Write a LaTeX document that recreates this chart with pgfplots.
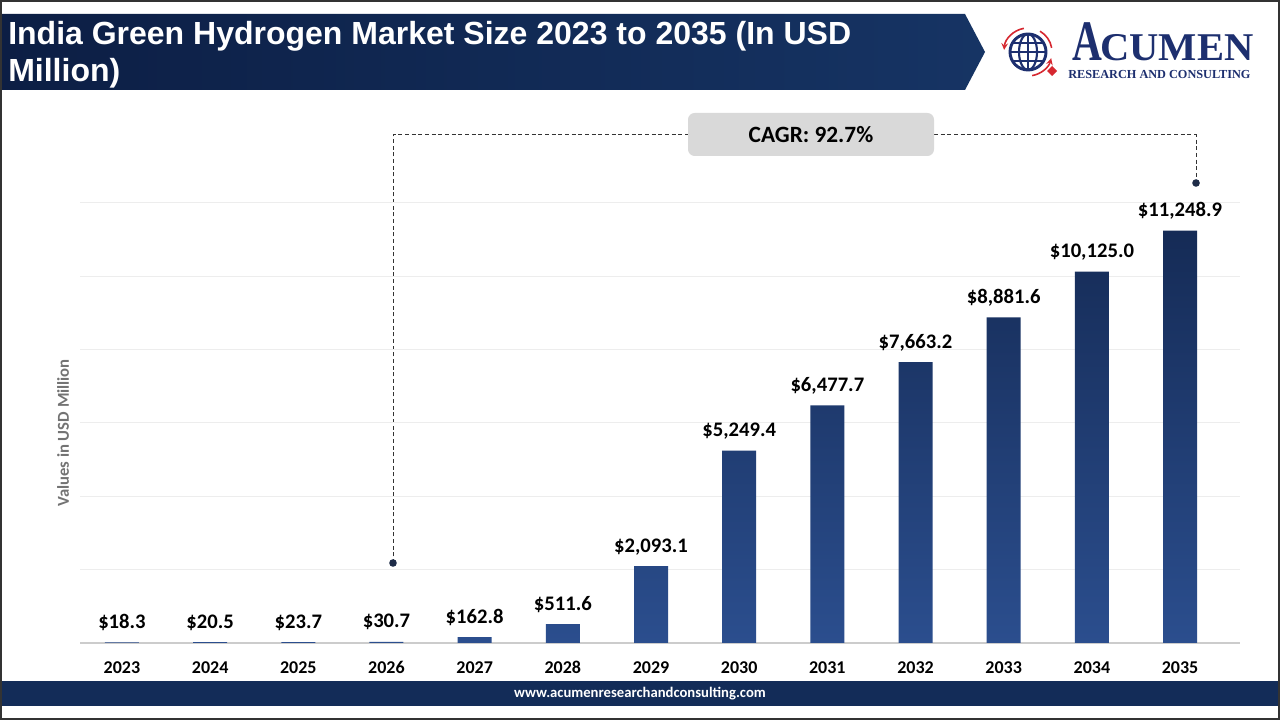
\documentclass[border=0pt]{standalone}
\usepackage{pgfplots}
\pgfplotsset{compat=1.18}
\usepackage{pgfplotstable}
\usepackage{fontspec}
\setmainfont{Carlito}
\newfontfamily\titlefont{Liberation Sans}
\newfontfamily\logofont{Liberation Serif}
\definecolor{navy}{RGB}{19,44,88}
\definecolor{bannerL}{RGB}{12,30,68}
\definecolor{bannerR}{RGB}{22,52,100}
\definecolor{barTop}{RGB}{21,43,86}
\definecolor{barBot}{RGB}{43,78,142}
\definecolor{logoblue}{RGB}{29,47,111}
\definecolor{logored}{RGB}{214,40,48}
\definecolor{dotc}{RGB}{30,44,72}
\pgfplotstableread{
x y label
0 18.3 18.3
1 20.5 20.5
2 23.7 23.7
3 30.7 30.7
4 162.8 162.8
5 511.6 511.6
6 2093.1 2,093.1
7 5249.4 5,249.4
8 6477.7 6,477.7
9 7663.2 7,663.2
10 8881.6 8,881.6
11 10125.0 10,125.0
12 11248.9 11,248.9
}\marketdata
\begin{document}
\begin{tikzpicture}[x=0.75pt,y=0.75pt]
\useasboundingbox (0,0) rectangle (1280,720);
\fill[white] (0,0) rectangle (1280,720);
% banner
\shade[left color=bannerL, right color=bannerR] (0,706) -- (965,706) -- (985,668) -- (965,630) -- (0,630) -- cycle;
\node[anchor=base west, inner sep=0pt, text=white, font=\titlefont\bfseries\fontsize{24}{28}\selectfont] at (8,675) {India Green Hydrogen Market Size 2023 to 2035 (In USD};
\node[anchor=base west, inner sep=0pt, text=white, font=\titlefont\bfseries\fontsize{24}{28}\selectfont] at (8,638) {Million)};
% logo
\begin{scope}
\clip (1028,668) circle (18);
\draw[logoblue, line width=1.6] (1028,668) ellipse (9 and 18);
\draw[logoblue, line width=1.6] (1028,650) -- (1028,686);
\draw[logoblue, line width=1.6] (1010,668) -- (1046,668);
\draw[logoblue, line width=1.6] (1010,677) -- (1046,677);
\draw[logoblue, line width=1.6] (1010,659) -- (1046,659);
\end{scope}
\draw[logoblue, line width=2.2] (1028,668) circle (18);
\draw[logored, line width=1.2, -stealth] (1028,668) ++(100:24) arc (100:175:24);
\draw[logored, line width=1.2, -stealth] (1028,668) ++(280:24) arc (280:345:24);
\draw[logored, line width=1.2] (1028,668) ++(10:24) arc (10:60:24);
\fill[logored] (1052,654) -- (1057,649) -- (1052,644) -- (1047,649) -- cycle;
\node[anchor=base west, inner sep=0pt, text depth=0pt, text=logoblue] at (1072,659) {\scalebox{0.72}[1]{\logofont\bfseries\fontsize{43}{43}\selectfont A}};
\node[anchor=base west, inner sep=0pt, text depth=0pt, text=logoblue] at (1100,659) {\scalebox{1.03}[1]{\logofont\bfseries\fontsize{29.5}{30}\selectfont CUMEN}};
\node[anchor=base west, inner sep=0pt, text depth=0pt, text height=6.5pt, text=logoblue] at (1068,641) {\logofont\bfseries\fontsize{9.2}{10}\selectfont RESEARCH AND CONSULTING};
% bottom bar
\fill[navy] (0,14) rectangle (1280,39);
\node[text=white, font=\bfseries\fontsize{11}{12}\selectfont, inner sep=0pt] at (640,26.5) {www.acumenresearchandconsulting.com};
% y label
\node[rotate=90, text=black!55, font=\bfseries\fontsize{12.5}{13}\selectfont, inner sep=0pt] at (63,287) {Values in USD Million};
% CAGR annotation
\draw[black!80, densely dashed, line width=0.75] (393,157) -- (393,585) -- (688,585);
\draw[black!80, densely dashed, line width=0.75] (934,585) -- (1196,585) -- (1196,537);
\fill[dotc] (393,157) circle (3.8);
\fill[dotc] (1196,537) circle (3.8);
\fill[black!15, rounded corners=5] (688,564) rectangle (934,607);
\node[font=\bfseries\fontsize{17.5}{18}\selectfont, inner sep=0pt] at (811,585) {CAGR: 92.7\%};
% chart
\begin{axis}[
  at={(60pt,57.75pt)}, anchor=south west,
  width=870pt, height=330pt, scale only axis,
  xmin=-0.476, xmax=12.68, ymin=0, ymax=12000,
  axis line style={draw=none},
  xtick={0,...,12},
  xticklabels={2023,2024,2025,2026,2027,2028,2029,2030,2031,2032,2033,2034,2035},
  xticklabel style={font=\bfseries\fontsize{13.5}{14}\selectfont, anchor=base, yshift=-23.25pt, inner sep=0pt},
  ytick={2000,4000,6000,8000,10000,12000},
  yticklabels={},
  scaled y ticks=false,
  ymajorgrids,
  grid style={draw=black!7, line width=0.75pt},
  extra y ticks={0}, extra y tick labels={},
  extra y tick style={grid style={draw=black!20, line width=0.9pt}},
  major tick length=0pt,
  clip=false,
  point meta=explicit symbolic,
  nodes near coords={\$\pgfplotspointmeta},
  every node near coord/.append style={font=\bfseries\fontsize{15.5}{16}\selectfont, anchor=base, yshift=10.5pt, inner sep=0pt, text=black},
]
\addplot[ybar, bar width=25.5pt, draw=none, top color=barTop, bottom color=barBot] table[x=x, y=y, meta=label] {\marketdata};
\end{axis}
% frame
\draw[black!80, line width=1.5] (0.75,0.75) rectangle (1279.25,719.25);
\end{tikzpicture}
\end{document}
